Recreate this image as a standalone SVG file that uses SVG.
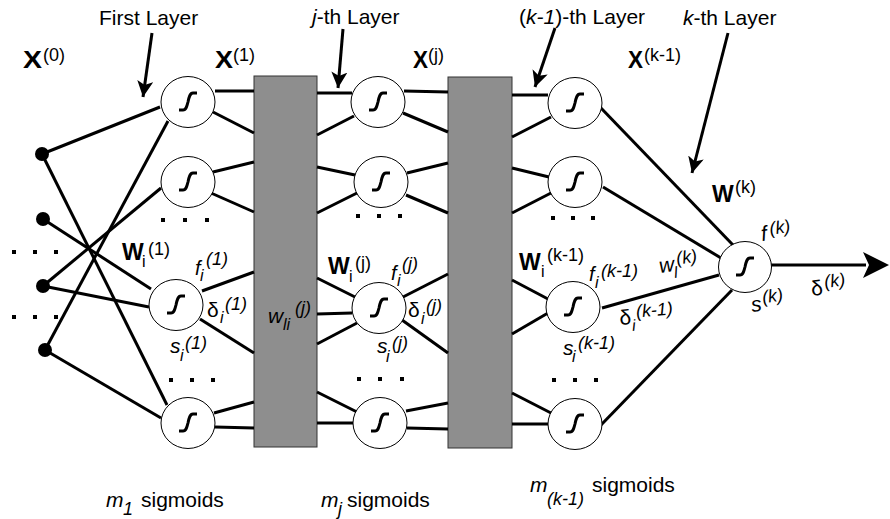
<svg xmlns="http://www.w3.org/2000/svg" width="890" height="519" viewBox="0 0 890 519">
<style>
text{font-family:"Liberation Sans",Arial,Helvetica,sans-serif;fill:#000}
.lbl{font-size:21px}
.b{font-weight:bold;font-size:23px}
.sup{font-size:18px}
.sub{font-size:16px}
.it{font-style:italic}
.node{fill:#fff;stroke:#000;stroke-width:1}
.sig{fill:none;stroke:#000;stroke-width:3}
.conn line{stroke:#000;stroke-width:3}
.thin{stroke:#000;stroke-width:1;fill:none}
.blk{fill:#8e8e8e;stroke:#333;stroke-width:1}
.dot{fill:#000}
</style>
<defs>
<path id="s" class="sig" d="M-9,8 L-5,8 C-2,8 -1,4 0,0 C1,-5 2,-9 5,-9 L9,-9"/>
<marker id="ah" markerUnits="userSpaceOnUse" markerWidth="18" markerHeight="18" refX="16" refY="8" orient="auto">
<path d="M0,0 L16,8 L0,16 L4,8 z" fill="#000"/>
</marker>
</defs>

<g id="blocks">
<rect id="block1" class="blk" x="254" y="76" width="63" height="371"/>
<rect id="block2" class="blk" x="448" y="77" width="64" height="371"/>
</g>

<g id="connectors" class="conn">
<line x1="42" y1="154" x2="160" y2="107"/>
<line x1="42" y1="154" x2="167" y2="405"/>
<line x1="43" y1="219" x2="151" y2="289"/>
<line x1="43" y1="286" x2="161" y2="188"/>
<line x1="43" y1="286" x2="149" y2="307"/>
<line x1="45" y1="350" x2="168" y2="121"/>
<line x1="45" y1="350" x2="161" y2="418"/>

<line x1="215" y1="91" x2="254" y2="91"/>
<line x1="213" y1="112" x2="254" y2="133"/>
<line x1="213" y1="172" x2="254" y2="162"/>
<line x1="211" y1="193" x2="254" y2="212"/>
<line x1="202" y1="291" x2="254" y2="272"/>
<line x1="200" y1="319" x2="254" y2="353"/>
<line x1="214" y1="413" x2="254" y2="402"/>
<line x1="215" y1="427" x2="254" y2="428"/>

<line x1="317" y1="93" x2="352" y2="93"/>
<line x1="317" y1="135" x2="354" y2="116"/>
<line x1="317" y1="167" x2="355" y2="175"/>
<line x1="317" y1="213" x2="357" y2="193"/>
<line x1="317" y1="278" x2="355" y2="297"/>
<line x1="317" y1="314" x2="352" y2="313"/>
<line x1="317" y1="344" x2="357" y2="323"/>
<line x1="317" y1="392" x2="357" y2="412"/>
<line x1="317" y1="423" x2="353" y2="423"/>

<line x1="404" y1="91" x2="448" y2="92"/>
<line x1="403" y1="113" x2="448" y2="132"/>
<line x1="407" y1="173" x2="448" y2="163"/>
<line x1="406" y1="195" x2="448" y2="213"/>
<line x1="403" y1="297" x2="448" y2="274"/>
<line x1="402" y1="320" x2="448" y2="353"/>
<line x1="406" y1="411" x2="448" y2="403"/>
<line x1="407" y1="428" x2="448" y2="429"/>

<line x1="512" y1="95" x2="548" y2="95"/>
<line x1="512" y1="137" x2="551" y2="117"/>
<line x1="512" y1="168" x2="549" y2="177"/>
<line x1="512" y1="213" x2="551" y2="193"/>
<line x1="512" y1="280" x2="548" y2="299"/>
<line x1="512" y1="334" x2="548" y2="313"/>
<line x1="512" y1="393" x2="551" y2="413"/>
<line x1="512" y1="424" x2="548" y2="424"/>

<line x1="600" y1="107" x2="733" y2="245"/>
<line x1="603" y1="187" x2="721" y2="258"/>
<line x1="602" y1="308" x2="719" y2="275"/>
<line x1="601" y1="425" x2="732" y2="290"/>

<line x1="771" y1="265" x2="866" y2="265"/>
<path d="M889,265 L863,252 L869,265 L863,278 z" fill="#000"/>

<line class="thin" x1="152" y1="33" x2="143" y2="97" marker-end="url(#ah)"/>
<line class="thin" x1="343" y1="29" x2="338" y2="88" marker-end="url(#ah)"/>
<line class="thin" x1="555" y1="28" x2="535" y2="87" marker-end="url(#ah)"/>
<line class="thin" x1="728" y1="33" x2="692" y2="173" marker-end="url(#ah)"/>
</g>

<g id="inputs">
<circle class="dot" cx="42" cy="154" r="7"/>
<circle class="dot" cx="43" cy="219" r="7"/>
<circle class="dot" cx="43" cy="286" r="7"/>
<circle class="dot" cx="45" cy="350" r="7"/>
</g>

<g id="layer1">
<g id="n1a"><ellipse class="node" cx="188" cy="102" rx="27" ry="25.5"/><use href="#s" x="188" y="102"/></g>
<g id="n1b"><ellipse class="node" cx="188" cy="182" rx="27" ry="25.5"/><use href="#s" x="188" y="182"/></g>
<g id="n1c"><ellipse class="node" cx="176" cy="305" rx="27" ry="25.5"/><use href="#s" x="176" y="305"/></g>
<g id="n1d"><ellipse class="node" cx="188" cy="423" rx="27" ry="25.5"/><use href="#s" x="188" y="423"/></g>
</g>
<g id="layerj">
<g id="nja"><ellipse class="node" cx="378" cy="102" rx="27" ry="25.5"/><use href="#s" x="378" y="102"/></g>
<g id="njb"><ellipse class="node" cx="381" cy="182" rx="27" ry="25.5"/><use href="#s" x="381" y="182"/></g>
<g id="njc"><ellipse class="node" cx="379" cy="308" rx="27" ry="25.5"/><use href="#s" x="379" y="308"/></g>
<g id="njd"><ellipse class="node" cx="380" cy="423" rx="27" ry="25.5"/><use href="#s" x="380" y="423"/></g>
</g>
<g id="layerk1">
<g id="nka"><ellipse class="node" cx="575" cy="103" rx="27" ry="25.5"/><use href="#s" x="575" y="103"/></g>
<g id="nkb"><ellipse class="node" cx="575" cy="182" rx="27" ry="25.5"/><use href="#s" x="575" y="182"/></g>
<g id="nkc"><ellipse class="node" cx="573" cy="307" rx="27" ry="25.5"/><use href="#s" x="573" y="307"/></g>
<g id="nkd"><ellipse class="node" cx="575" cy="424" rx="27" ry="25.5"/><use href="#s" x="575" y="424"/></g>
</g>
<g id="output">
<ellipse class="node" cx="745" cy="267" rx="26.5" ry="25.5"/><use href="#s" x="745" y="267"/>
</g>

<g id="dots" class="dot">
<rect x="12" y="250" width="4" height="4"/><rect x="33" y="250" width="4" height="4"/><rect x="54" y="250" width="4" height="4"/>
<rect x="12" y="315" width="4" height="4"/><rect x="33" y="315" width="4" height="4"/><rect x="54" y="315" width="4" height="4"/>
<rect x="161" y="218" width="4" height="4"/><rect x="183" y="218" width="4" height="4"/><rect x="205" y="218" width="4" height="4"/>
<rect x="169" y="378" width="4" height="4"/><rect x="190" y="378" width="4" height="4"/><rect x="211" y="378" width="4" height="4"/>
<rect x="356" y="214" width="4" height="4"/><rect x="377" y="214" width="4" height="4"/><rect x="398" y="214" width="4" height="4"/>
<rect x="357" y="377" width="4" height="4"/><rect x="378" y="377" width="4" height="4"/><rect x="400" y="377" width="4" height="4"/>
<rect x="551" y="216" width="4" height="4"/><rect x="571" y="216" width="4" height="4"/><rect x="591" y="216" width="4" height="4"/>
<rect x="552" y="378" width="4" height="4"/><rect x="573" y="378" width="4" height="4"/><rect x="594" y="378" width="4" height="4"/>
</g>

<g id="labels">
<text class="lbl" x="99" y="25">First Layer</text>
<text class="lbl" x="312" y="24"><tspan class="it">j</tspan>-th Layer</text>
<text class="lbl" x="519" y="24">(<tspan class="it">k-1</tspan>)-th Layer</text>
<text class="lbl" x="683" y="25"><tspan class="it">k</tspan>-th Layer</text>

<text class="b" x="23" y="68" textLength="19" lengthAdjust="spacingAndGlyphs">X</text><text class="sup" x="43" y="61">(0)</text>
<text class="b" x="215" y="68" textLength="18" lengthAdjust="spacingAndGlyphs">X</text><text class="sup" x="233" y="61">(1)</text>
<text class="b" x="413" y="68" textLength="15" lengthAdjust="spacingAndGlyphs">X</text><text class="sup" x="428" y="61">(j)</text>
<text class="b" x="628" y="68" textLength="15" lengthAdjust="spacingAndGlyphs">X</text><text class="sup" x="644" y="61">(k-1)</text>

<text class="b" x="122" y="260">W</text><text class="sub" x="142" y="267">i</text><text class="sup" x="148" y="255">(1)</text>
<text class="b" x="328" y="274">W</text><text class="sub" x="349" y="282">i</text><text class="sup" x="355" y="269">(j)</text>
<text class="b" x="519" y="270">W</text><text class="sub" x="541" y="277">i</text><text class="sup" x="547" y="261">(k-1)</text>
<text class="b" x="712" y="202">W</text><text class="sup" x="735" y="193">(k)</text>

<g class="it">
<text style="font-size:20px" x="195" y="275">f</text><text class="sub" x="200" y="281">i</text><text class="sup" x="206" y="265">(1)</text>
<text style="font-size:21px;font-style:normal" x="207" y="317">δ</text><text class="sub" x="220" y="323">i</text><text class="sup" x="225" y="310">(1)</text>
<text style="font-size:21px" x="170" y="353">s</text><text class="sub" x="180" y="361">i</text><text class="sup" x="185" y="349">(1)</text>
<text style="font-size:21px" x="268" y="323">w</text><text class="sub" x="283" y="330">li</text><text class="sup" x="295" y="314">(j)</text>
<text style="font-size:20px" x="391" y="280">f</text><text class="sub" x="397" y="286">i</text><text class="sup" x="402" y="270">(j)</text>
<text style="font-size:21px;font-style:normal" x="408" y="317">δ</text><text class="sub" x="421" y="324">i</text><text class="sup" x="426" y="312">(j)</text>
<text style="font-size:21px" x="377" y="353">s</text><text class="sub" x="386" y="362">i</text><text class="sup" x="392" y="349">(j)</text>
<text style="font-size:20px" x="589" y="281">f</text><text class="sub" x="595" y="288">i</text><text class="sup" x="601" y="277">(k-1)</text>
<g transform="rotate(-5 620 325)"><text style="font-size:21px;font-style:normal" x="620" y="325">δ</text><text class="sub" x="632" y="332">i</text><text class="sup" x="637" y="319">(k-1)</text></g>
<text style="font-size:21px" x="563" y="355">s</text><text class="sub" x="572" y="362">i</text><text class="sup" x="578" y="349">(k-1)</text>
<g transform="rotate(-8 660 273)"><text style="font-size:21px" x="660" y="273">w</text><text class="sub" x="674" y="280">l</text><text class="sup" x="678" y="267">(k)</text></g>
<g transform="rotate(-8 762 241)"><text style="font-size:21px" x="762" y="241">f</text><text class="sup" x="771" y="236">(k)</text></g>
<g transform="rotate(-8 752 312)"><text style="font-size:21px" x="752" y="312">s</text><text class="sup" x="764" y="305">(k)</text></g>
<g transform="rotate(-8 812 296)"><text style="font-size:21px;font-style:normal" x="812" y="296">δ</text><text class="sup" x="826" y="290">(k)</text></g>
</g>

<text class="lbl" x="106" y="507"><tspan class="it">m</tspan></text><text class="it sup" x="123" y="515">1</text><text class="lbl" x="141" y="507">sigmoids</text>
<text class="lbl" x="321" y="507"><tspan class="it">m</tspan></text><text class="it sup" x="338" y="515">j</text><text class="lbl" x="347" y="507">sigmoids</text>
<text class="lbl" x="530" y="492"><tspan class="it">m</tspan></text><text class="it sup" x="547" y="505">(k-1)</text><text class="lbl" x="592" y="492">sigmoids</text>
</g>
</svg>
